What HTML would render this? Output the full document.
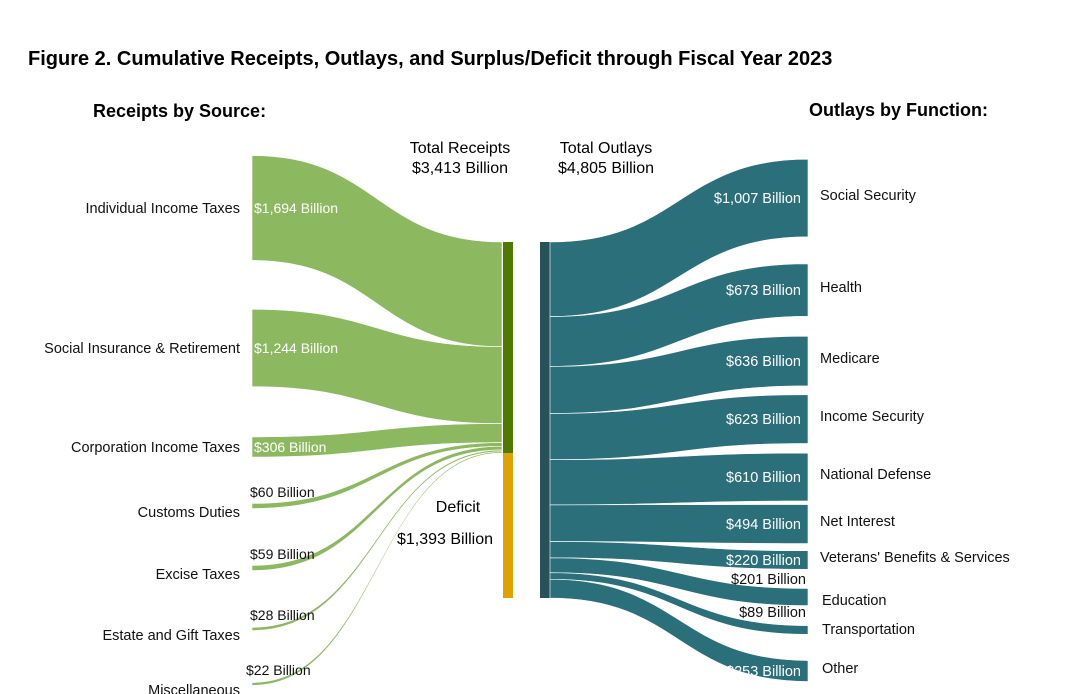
<!DOCTYPE html>
<html><head><meta charset="utf-8">
<style>
body{margin:0;background:#fff;}
svg{display:block;font-family:"Liberation Sans",Arial,sans-serif;}
</style></head>
<body>
<svg id="chart" width="1080" height="694" viewBox="0 0 1080 694" xmlns="http://www.w3.org/2000/svg">
<text x="28" y="65" font-size="20" font-weight="bold" fill="#000">Figure 2. Cumulative Receipts, Outlays, and Surplus/Deficit through Fiscal Year 2023</text>
<text x="93" y="117" font-size="18" font-weight="bold">Receipts by Source:</text>
<text x="809" y="116" font-size="18" font-weight="bold">Outlays by Function:</text>
<text x="460" y="153" font-size="16" text-anchor="middle">Total Receipts</text>
<text x="460" y="173" font-size="16" text-anchor="middle">$3,413 Billion</text>
<text x="606" y="153" font-size="16" text-anchor="middle">Total Outlays</text>
<text x="606" y="173" font-size="16" text-anchor="middle">$4,805 Billion</text>
<text x="458" y="512" font-size="16" text-anchor="middle">Deficit</text>
<text x="445" y="544" font-size="16" text-anchor="middle">$1,393 Billion</text>
<g id="flows"></g>
</svg>
<script>
const receiptNames=["Individual Income Taxes","Social Insurance & Retirement","Corporation Income Taxes","Customs Duties","Excise Taxes","Estate and Gift Taxes","Miscellaneous"];
const receiptValues=[1694,1244,306,60,59,28,22];
const receiptCenters=[208,348,447,506,568,629,684];
const outlayNames=["Social Security","Health","Medicare","Income Security","National Defense","Net Interest","Veterans' Benefits & Services","Education","Transportation","Other"];
const outlayValues=[1007,673,636,623,610,494,220,201,89,253];
const outlayCenters=[198,290,361,419,477,524,560,597,630,671];
const deficitValue=1393;

const NS="http://www.w3.org/2000/svg";
const g=document.getElementById('flows');
function mk(tag,attrs){const e=document.createElementNS(NS,tag);for(const k in attrs)e.setAttribute(k,attrs[k]);g.appendChild(e);return e;}
function ribbon(x0,y0a,y0b,x1,y1a,y1b){
  const m=(x0+x1)/2;
  return `M${x0},${y0a} C${m},${y0a} ${m},${y1a} ${x1},${y1a} L${x1},${y1b} C${m},${y1b} ${m},${y0b} ${x0},${y0b} Z`;
}
const totalReceipts=receiptValues.reduce((a,b)=>a+b,0);
const barTop=242, recBarBottom=453, barBottom=598;
const recScale=(recBarBottom-barTop)/totalReceipts;
const lx0=252, lx1=502;
let cy=barTop;
receiptValues.forEach((v,i)=>{
  const hIn=v*recScale;
  const hN=v*0.061+1.5;
  const c=receiptCenters[i];
  const p=mk('path',{d:ribbon(lx0,c-hN/2,c+hN/2,lx1,cy,cy+hIn),fill:'#8cb860',stroke:'#fff','stroke-width':0.6});
  
  
  cy+=hIn;
  const t=mk('text',{x:240,y:c+(i>=3?11:5),'font-size':14.5,'text-anchor':'end',fill:'#111'});
  t.textContent=receiptNames[i];
  
  
  const vt=mk('text',{x:(i<3?254:i===6?246:250),y:(i<3?c+5:c-9),'font-size':14,fill:(i<3?'#fff':'#111')});
  vt.textContent='$'+v.toLocaleString('en-US')+' Billion';
  
  
});
let r=mk('rect',{x:503,y:barTop,width:10,height:recBarBottom-barTop,fill:'#4e7a00'});

r=mk('rect',{x:503,y:recBarBottom,width:10,height:barBottom-recBarBottom,fill:'#e0a200'});

r=mk('rect',{x:540,y:barTop,width:10,height:barBottom-barTop,fill:'#27525a'});

const totalOut=outlayValues.reduce((a,b)=>a+b,0);
const outScale=(barBottom-barTop)/totalOut;
const rx0=550, rx1=808;
let oy=barTop;
outlayValues.forEach((v,i)=>{
  const hOut=v*outScale;
  const hN=2+v*0.075;
  const c=outlayCenters[i];
  const p=mk('path',{d:ribbon(rx0,oy,oy+hOut,rx1,c-hN/2,c+hN/2),fill:'#2a6f7a',stroke:'#fff','stroke-width':0.6});
  
  
  oy+=hOut;
  const nameY = i===7?c+8: i===8?c+4 : c+2;
  const t=mk('text',{x:(i>=7?822:820),y:nameY,'font-size':14.5,fill:'#111'});
  t.textContent=outlayNames[i];
  
  
  const small=(i===7||i===8);
  const vt=mk('text',{x:(small?806:801),y:(i===7?c-13:i===8?c-13:c+5),'font-size':14.5,'text-anchor':'end',fill:(small?'#111':'#fff')});
  vt.textContent='$'+v.toLocaleString('en-US')+' Billion';
  
  
});
</script>
</body></html>
